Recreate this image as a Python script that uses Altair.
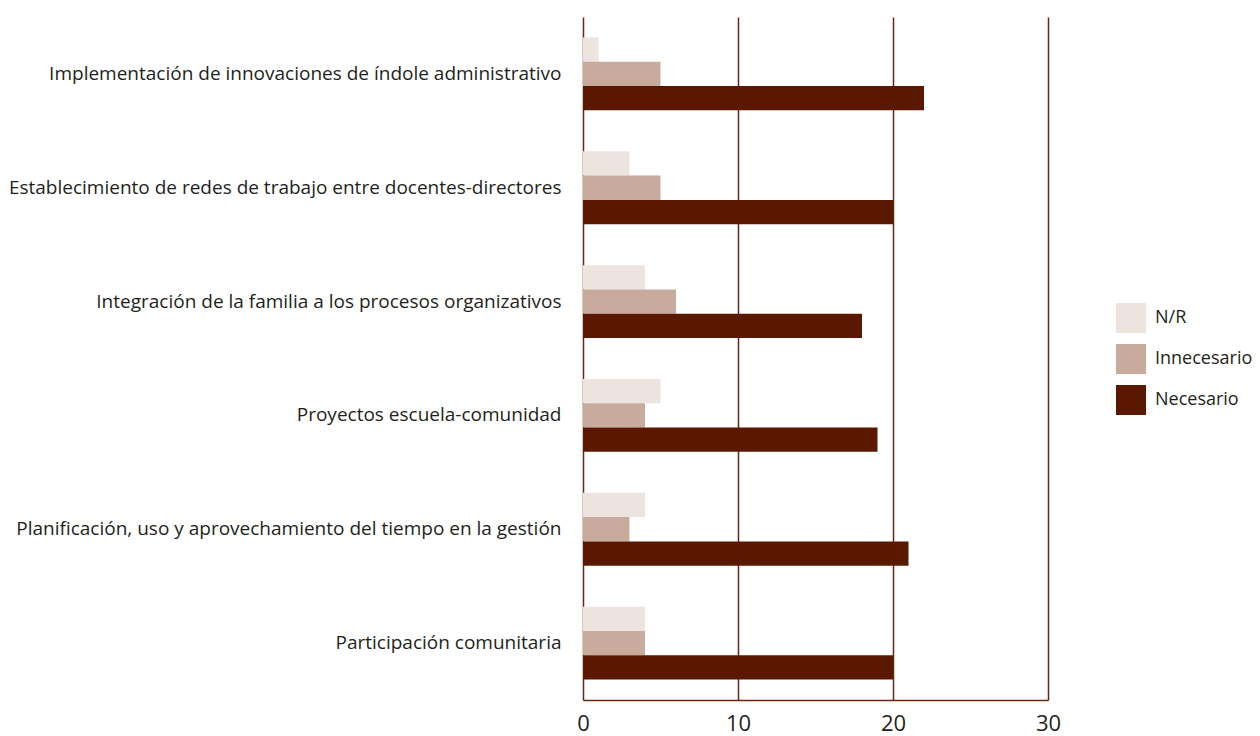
import altair as alt
import pandas as pd

categories = [
    "Implementación de innovaciones de índole administrativo",
    "Establecimiento de redes de trabajo entre docentes-directores",
    "Integración de la familia a los procesos organizativos",
    "Proyectos escuela-comunidad",
    "Planificación, uso y aprovechamiento del tiempo en la gestión",
    "Participación comunitaria",
]
series = ["N/R", "Innecesario", "Necesario"]
nr = [1, 3, 4, 5, 4, 4]
innecesario = [5, 5, 6, 4, 3, 4]
necesario = [22, 20, 18, 19, 21, 20]
colors = ["#EDE3DF", "#C9AB9E", "#5A1800"]
x_ticks = [0, 10, 20, 30]

rows = []
for i, c in enumerate(categories):
    for s, vals in zip(series, [nr, innecesario, necesario]):
        rows.append({"Categoría": c, "Serie": s, "Valor": vals[i]})
df = pd.DataFrame(rows)

FONT = "Open Sans"

chart = alt.Chart(df).mark_bar().encode(
    y=alt.Y(
        "Categoría:N",
        sort=categories,
        title=None,
        scale=alt.Scale(paddingInner=0.36, paddingOuter=0.18),
        axis=alt.Axis(
            ticks=False,
            domain=False,
            labelFontSize=19,
            labelFont=FONT,
            labelColor="#231F20",
            labelPadding=22,
            labelLimit=700,
            grid=False,
        ),
    ),
    yOffset=alt.YOffset("Serie:N", sort=series, scale=alt.Scale(paddingInner=0, paddingOuter=0)),
    x=alt.X(
        "Valor:Q",
        title=None,
        scale=alt.Scale(domain=[0, 30], nice=False),
        axis=alt.Axis(
            values=x_ticks,
            ticks=False,
            domain=True,
            domainColor="#6B2412",
            domainWidth=1.5,
            grid=True,
            gridColor="#6B2412",
            gridWidth=1.5,
            gridOpacity=1,
            labelFontSize=22,
            labelFont=FONT,
            labelColor="#231F20",
            labelPadding=13,
            labelFlush=False,
            labelOverlap=False,
            labelBound=False,
        ),
    ),
    color=alt.Color(
        "Serie:N",
        sort=series,
        scale=alt.Scale(domain=series, range=colors),
        legend=alt.Legend(
            title=None,
            orient="none",
            legendX=533,
            legendY=286,
            symbolType="square",
            symbolSize=900,
            symbolStrokeWidth=0,
            labelFontSize=18,
            labelFont=FONT,
            labelColor="#231F20",
            labelOffset=9,
            rowPadding=11,
        ),
    ),
).properties(
    width=465,
    height=683,
    autosize=alt.AutoSizeParams(type="none"),
    padding={"left": 583, "top": 17, "right": 212, "bottom": 36},
).configure_view(stroke=None)

chart.save("out.html", embed_options={"renderer": "svg", "actions": False})
